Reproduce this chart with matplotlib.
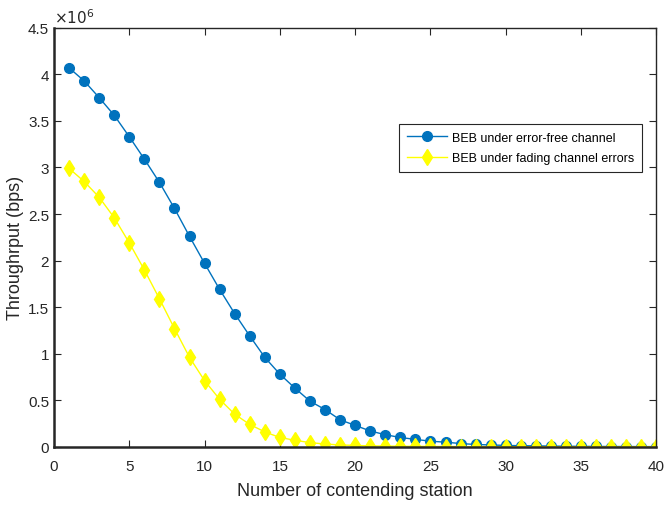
import matplotlib.pyplot as plt
import numpy as np

plt.rcParams['font.family'] = ['Liberation Sans', 'DejaVu Sans']

# Number of contending stations
stations = np.arange(1, 41)

# Throughput in units of 1e6 bps
beb_error_free = [4.07, 3.93, 3.75, 3.56, 3.33, 3.09, 2.84, 2.56, 2.26, 1.97,
                  1.69, 1.43, 1.19, 0.96, 0.78, 0.63, 0.49, 0.40, 0.29, 0.23,
                  0.17, 0.13, 0.10, 0.08, 0.06, 0.05, 0.035, 0.025, 0.02, 0.015,
                  0.012, 0.01, 0.008, 0.006, 0.005, 0.004, 0.003, 0.003, 0.002, 0.002]
beb_fading = [2.99, 2.85, 2.68, 2.46, 2.19, 1.90, 1.59, 1.27, 0.96, 0.71,
              0.51, 0.35, 0.24, 0.16, 0.10, 0.07, 0.045, 0.03, 0.02, 0.015,
              0.01, 0.008, 0.006, 0.005, 0.004, 0.003, 0.002, 0.002, 0.001, 0.001,
              0.001, 0.001, 0.0, 0.0, 0.0, 0.0, 0.0, 0.0, 0.0, 0.0]

fig = plt.figure(figsize=(6.67, 5.06), dpi=100)
ax = fig.add_axes([0.081, 0.115, 0.903, 0.828])

ax.plot(stations, beb_error_free, color='#0072BD', marker='o', markersize=7,
        linewidth=1, label='BEB under error-free channel')
ax.plot(stations, beb_fading, color='#FFFF00', marker='d', markersize=8,
        linewidth=1, label='BEB under fading channel errors')

ax.set_xlim(0, 40)
ax.set_ylim(0, 4.5)
ax.set_xticks(np.arange(0, 41, 5))
ax.set_yticks(np.arange(0, 4.6, 0.5))
ax.set_yticklabels(['0', '0.5', '1', '1.5', '2', '2.5', '3', '3.5', '4', '4.5'])
ax.tick_params(direction='in', top=True, right=True, labelsize=11,
               colors='#262626', length=5)
ax.tick_params(axis='x', pad=9)
for s in ax.spines.values():
    s.set_color('#262626')
    s.set_linewidth(1.0)
ax.spines['left'].set_linewidth(1.8)
ax.spines['bottom'].set_linewidth(1.8)

ax.text(0.0, 1.005, r'$\times10^6$', transform=ax.transAxes, fontsize=11,
        color='#262626', va='bottom', ha='left')
ax.set_xlabel('Number of contending station', fontsize=13, color='#262626',
              labelpad=6)
fig.text(16 / 667, 0.51, 'Throughrput (bps)', rotation=90,
         fontsize=13, color='#262626', ha='center', va='center')

leg = ax.legend(loc='upper left', bbox_to_anchor=(0.563, 0.785), fontsize=9,
                fancybox=False, edgecolor='#262626', framealpha=1,
                borderpad=0.6, handlelength=3.2, labelspacing=0.7,
                handletextpad=0.4)
leg.get_frame().set_linewidth(0.8)

fig.savefig('out.png', dpi=100)
